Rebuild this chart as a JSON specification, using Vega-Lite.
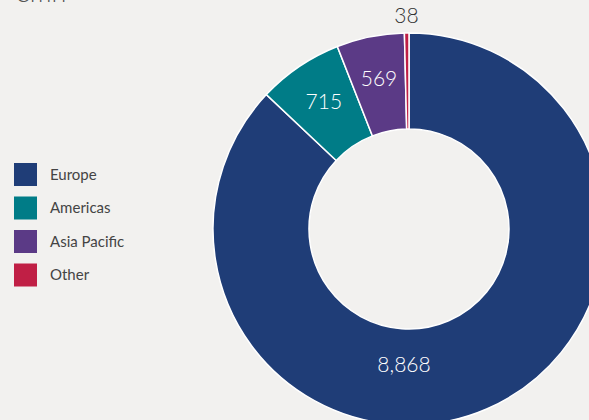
{
  "$schema": "https://vega.github.io/schema/vega-lite/v6.json",
  "autosize": "none",
  "width": 818,
  "height": 418,
  "padding": {"top": 20, "left": 0, "right": 0, "bottom": 0},
  "background": "#f2f1ef",
  "title": {"text": "€mn", "anchor": "start", "frame": "group", "dx": 14, "dy": 23, "offset": 0, "baseline": "alphabetic", "fontSize": 27, "font": "Lato", "fontWeight": 300, "color": "#555555"},
  "config": {"view": {"stroke": null}, "font": "Lato"},
  "data": {"values": [
    {"Region": "Europe", "Value": 8868, "order": 1},
    {"Region": "Americas", "Value": 715, "order": 2},
    {"Region": "Asia Pacific", "Value": 569, "order": 3},
    {"Region": "Other", "Value": 38, "order": 4}
  ]},
  "layer": [
    {
      "mark": {"type": "arc", "outerRadius": 196, "innerRadius": 100, "stroke": "#ffffff", "strokeWidth": 1.5},
      "encoding": {
        "theta": {"field": "Value", "type": "quantitative", "stack": true},
        "order": {"field": "order", "type": "quantitative"},
        "color": {"field": "Region", "type": "nominal",
          "scale": {"domain": ["Europe", "Americas", "Asia Pacific", "Other"], "range": ["#1f3d77", "#007c87", "#5b3a86", "#c01f45"]},
          "legend": {"title": null, "orient": "none", "legendX": 14, "legendY": 143, "padding": 0, "symbolType": "square", "symbolSize": 529, "symbolStrokeWidth": 0, "symbolOpacity": 1, "labelFontSize": 15, "labelFont": "Lato", "labelColor": "#444444", "labelOffset": 13, "rowPadding": 10.5}
        }
      }
    },
    {
      "mark": {"type": "text", "radius": 152, "fontSize": 21, "fontWeight": 300, "fill": "#ffffff"},
      "encoding": {
        "theta": {"field": "Value", "type": "quantitative", "stack": true},
        "order": {"field": "order", "type": "quantitative"},
        "text": {"field": "Value", "type": "quantitative", "format": ","},
        "opacity": {"condition": {"test": "datum.Region === 'Americas' || datum.Region === 'Asia Pacific'", "value": 1}, "value": 0}
      }
    },
    {
      "mark": {"type": "text", "radius": 212, "fontSize": 21, "fontWeight": 300, "fill": "#333333"},
      "encoding": {
        "theta": {"field": "Value", "type": "quantitative", "stack": true},
        "order": {"field": "order", "type": "quantitative"},
        "text": {"field": "Value", "type": "quantitative", "format": ","},
        "opacity": {"condition": {"test": "datum.Region === 'Other'", "value": 1}, "value": 0}
      }
    },
    {
      "transform": [{"filter": "datum.Region === 'Europe'"}],
      "mark": {"type": "text", "theta": 3.178, "radius": 137, "fontSize": 21, "fontWeight": 300, "fill": "#ffffff"},
      "encoding": {
        "text": {"field": "Value", "type": "quantitative", "format": ","}
      }
    }
  ]
}
